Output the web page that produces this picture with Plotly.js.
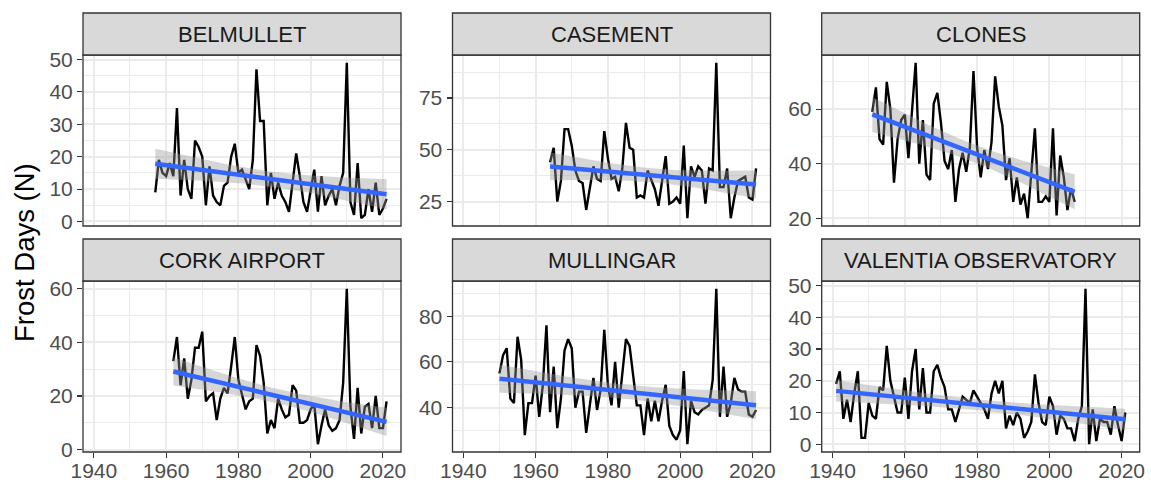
<!DOCTYPE html>
<html><head><meta charset="utf-8">
<script src="https://cdn.plot.ly/plotly-3.0.1.min.js"></script>
<style>html,body{margin:0;padding:0;background:#fff}#chart{width:1151px;height:483px}</style>
</head><body><div id="chart"></div><script>
// ---- data ----
const stations = ["BELMULLET", "CASEMENT", "CLONES", "CORK AIRPORT", "MULLINGAR", "VALENTIA OBSERVATORY"];
const startYears = [1957, 1964, 1951, 1962, 1950, 1941];
const belmullet = [9,19,15,14,18,14,35,8,19,10,7,25,23,20,5,17,8,6,5,11,12,20,24,15,16,13,10,19,47,31,31,5,15,7,12,8,6,3,13,21,14,6,3,9,16,3,14,5,8,10,5,11,15,49,6,2,18,1,2,10,3,12,2,4,7];
const casement = [44,51,25,35,60,60,52,40,35,34,21,31,42,36,35,59,46,36,37,30,41,63,51,50,27,28,27,40,35,31,23,34,47,24,25,27,24,52,17,42,37,42,40,24,41,40,92,32,32,41,17,27,35,36,37,27,26,41];
const clones = [59,68,49,47,70,60,33,49,56,58,42,59,77,40,56,36,34,62,66,55,41,38,45,26,38,44,37,46,74,46,35,45,38,48,72,61,54,34,42,26,35,25,29,20,35,53,26,26,28,26,53,21,43,35,23,31,26];
const corkAirport = [33,42,24,34,19,26,38,38,44,18,20,21,11,19,23,21,31,42,26,20,15,18,19,39,35,25,6,11,8,19,15,12,13,24,22,10,10,11,15,17,2,9,15,9,7,8,11,25,60,16,4,23,6,16,17,8,20,8,8,18];
const mullingar = [55,63,66,44,42,71,61,28,42,42,54,36,50,76,38,58,31,44,65,70,66,40,47,47,29,41,53,39,48,74,50,41,60,40,55,70,67,55,41,41,28,44,34,43,34,43,50,32,28,26,30,56,24,43,38,37,39,40,41,52,92,36,58,36,42,53,48,47,47,37,36,39];
const valentia = [19,23,8,14,7,16,23,2,2,13,9,8,18,17,31,20,15,10,10,21,8,23,30,11,24,10,10,23,25,21,18,11,11,7,11,15,14,13,17,15,13,11,8,16,20,16,20,5,9,6,10,8,2,4,7,22,13,7,6,15,12,3,9,8,5,5,1,8,12,49,0,11,1,8,7,7,3,12,6,1,10];
const seriesValues = [belmullet, casement, clones, corkAirport, mullingar, valentia];

const xTickVals = [1940, 1960, 1980, 2000, 2020];
const xMinorVals = [1950, 1970, 1990, 2010];
const yTickVals = [[0,10,20,30,40,50],[25,50,75],[20,40,60],[0,20,40,60],[40,60,80],[0,10,20,30,40,50]];
const yMinorVals = [[5,15,25,35,45],[12.5,37.5,62.5,87.5],[30,50,70],[10,30,50],[30,50,70,90],[5,15,25,35,45]];
const yTitle = "Frost Days (N)";

// ---- layout geometry (px) ----
const W = 1151, H = 483;
const colX = [[83, 401], [452.5, 770.5], [821.7, 1139.7]];
const rowPanel = [[55, 226], [281, 452]];
const rowStrip = [[13, 55], [239, 281]];
const FONT = '"Liberation Sans", Arial, Helvetica, sans-serif';
const TICK_SIZE = 21, STRIP_SIZE = 22, TITLE_SIZE = 27.5;

// ---- helpers ----
function tq(df) {
  const z = 1.959964;
  const g1 = (z**3 + z) / 4, g2 = (5*z**5 + 16*z**3 + 3*z) / 96, g3 = (3*z**7 + 19*z**5 + 17*z**3 - 15*z) / 384;
  return z + g1/df + g2/df**2 + g3/df**3;
}
function lmFit(xs, ys) {
  const n = xs.length;
  const xb = xs.reduce((a,b)=>a+b,0)/n, yb = ys.reduce((a,b)=>a+b,0)/n;
  let sxx=0, sxy=0;
  for (let i=0;i<n;i++){ sxx += (xs[i]-xb)**2; sxy += (xs[i]-xb)*(ys[i]-yb); }
  const b = sxy/sxx, a = yb - b*xb;
  let sse = 0;
  for (let i=0;i<n;i++){ sse += (ys[i]-a-b*xs[i])**2; }
  const s = Math.sqrt(sse/(n-2)), t = tq(n-2);
  const fit = [], lo = [], hi = [];
  const m = 80, x0 = Math.min(...xs), x1 = Math.max(...xs), gx = [];
  for (let k=0;k<m;k++){
    const x = x0 + (x1-x0)*k/(m-1); gx.push(x);
    const f = a + b*x, se = s*Math.sqrt(1/n + (x-xb)**2/sxx);
    fit.push(f); lo.push(f - t*se); hi.push(f + t*se);
  }
  return {gx, fit, lo, hi};
}

const allYears = [];
const traces = [], shapes = [], annotations = [];
const layout = {
  width: W, height: H, margin: {l:0, r:0, t:0, b:0},
  paper_bgcolor: '#ffffff', plot_bgcolor: '#ffffff', showlegend: false,
  font: {family: FONT, color: '#4d4d4d'}
};

const yearsList = seriesValues.map((v, i) => v.map((_, j) => startYears[i] + j));
yearsList.forEach(y => allYears.push(...y));
const xMin = Math.min(...allYears), xMax = Math.max(...allYears);
const xPad = (xMax - xMin) * 0.05;

seriesValues.forEach((vals, i) => {
  const years = yearsList[i];
  const row = Math.floor(i / 3), col = i % 3;
  const ax = i === 0 ? '' : String(i + 1);
  const xa = 'x' + ax, ya = 'y' + ax;
  const fitRes = lmFit(years, vals);

  traces.push({x: years, y: vals, xaxis: xa, yaxis: ya, type: 'scatter', mode: 'lines',
    line: {color: '#000000', width: 2.4}, hoverinfo: 'skip'});
  traces.push({x: fitRes.gx.concat(fitRes.gx.slice().reverse()), y: fitRes.hi.concat(fitRes.lo.slice().reverse()),
    xaxis: xa, yaxis: ya, type: 'scatter', mode: 'lines', fill: 'toself',
    fillcolor: 'rgba(153,153,153,0.4)', line: {width: 0, color: 'rgba(0,0,0,0)'}, hoverinfo: 'skip'});
  traces.push({x: fitRes.gx, y: fitRes.fit, xaxis: xa, yaxis: ya, type: 'scatter', mode: 'lines',
    line: {color: '#3366FF', width: 4.5}, hoverinfo: 'skip'});

  const lo = Math.min(...vals, ...fitRes.lo), hi = Math.max(...vals, ...fitRes.hi);
  const pad = (hi - lo) * 0.05;

  const [xl, xr] = colX[col], [pt, pb] = rowPanel[row], [st, sb] = rowStrip[row];
  layout['xaxis' + ax] = {
    domain: [xl / W, xr / W], anchor: ya, range: [xMin - xPad, xMax + xPad],
    tickmode: 'array', tickvals: xTickVals, showticklabels: row === 1,
    ticks: row === 1 ? 'outside' : '', ticklen: 5, tickwidth: 1.1, tickcolor: '#333333',
    ticklabelstandoff: -5,
    tickfont: {size: TICK_SIZE, color: '#4d4d4d', family: FONT},
    showgrid: true, gridcolor: '#ebebeb', gridwidth: 2,
    minor: {tickmode: 'array', tickvals: xMinorVals, showgrid: true, gridcolor: '#ebebeb', gridwidth: 1, ticks: ''},
    zeroline: false, showline: false, fixedrange: true
  };
  layout['yaxis' + ax] = {
    domain: [1 - pb / H, 1 - pt / H], anchor: xa, range: [lo - pad, hi + pad],
    tickmode: 'array', tickvals: yTickVals[i],
    ticks: 'outside', ticklen: 5, tickwidth: 1.1, tickcolor: '#333333',
    tickfont: {size: TICK_SIZE, color: '#4d4d4d', family: FONT},
    showgrid: true, gridcolor: '#ebebeb', gridwidth: 2,
    minor: {tickmode: 'array', tickvals: yMinorVals[i], showgrid: true, gridcolor: '#ebebeb', gridwidth: 1, ticks: ''},
    zeroline: false, showline: false, fixedrange: true
  };
  // panel border
  shapes.push({type: 'rect', xref: 'paper', yref: 'paper', x0: xl / W, x1: xr / W, y0: 1 - pb / H, y1: 1 - pt / H,
    line: {color: '#333333', width: 1.3}, fillcolor: 'rgba(0,0,0,0)', layer: 'above'});
  // strip
  shapes.push({type: 'rect', xref: 'paper', yref: 'paper', x0: xl / W, x1: xr / W, y0: 1 - sb / H, y1: 1 - st / H,
    line: {color: '#333333', width: 1.3}, fillcolor: '#d9d9d9', layer: 'above'});
  annotations.push({text: stations[i], xref: 'paper', yref: 'paper', x: (xl + xr) / 2 / W, y: 1 - (st + sb) / 2 / H,
    xanchor: 'center', yanchor: 'middle', showarrow: false, font: {size: STRIP_SIZE, color: '#1a1a1a', family: FONT}});
});

annotations.push({text: yTitle, xref: 'paper', yref: 'paper', x: 24 / W, y: 1 - 253 / H, textangle: -90,
  xanchor: 'center', yanchor: 'middle', showarrow: false, font: {size: TITLE_SIZE, color: '#000000', family: FONT}});

layout.shapes = shapes;
layout.annotations = annotations;

Plotly.newPlot('chart', traces, layout, {displayModeBar: false, staticPlot: true});
</script></body></html>
